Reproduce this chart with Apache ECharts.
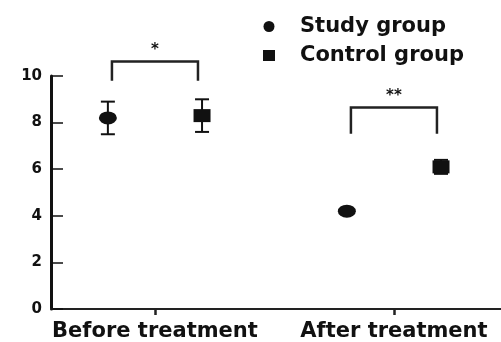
<!DOCTYPE html>
<html>
<head>
<meta charset="utf-8">
<script src="https://cdn.jsdelivr.net/npm/echarts@6/dist/echarts.min.js"></script>
<style>
  html, body { margin: 0; padding: 0; background: #fff; }
  #chart { width: 501px; height: 342px; }
</style>
</head>
<body>
<div id="chart"></div>
<script>
// Group means and standard deviations per time point
const categories = ['Before treatment', 'After treatment'];
const studyMean = [8.2, 4.2];
const studySD = [0.7, 0.1];
const controlMean = [8.3, 6.1];
const controlSD = [0.7, 0.3];

// Significance brackets: level of the bar and of the bracket feet, plus marker text
const sigLabels = ['*', '**'];
const bracketTop = [10.62, 8.65];
const bracketFoot = [9.8, 7.52];

const FONT = 'DejaVu Sans';
const INK = '#111';
const GROUP_OFFSET = 0.197;   // horizontal shift of each group from its category centre
const BRACKET_HALF = 0.18;

function errorBars(name, mean, sd, side) {
  return {
    type: 'custom',
    name: name + ' SD',
    silent: true,
    z: 3,
    data: mean.map((m, i) => [i + 1 + side * GROUP_OFFSET, m - sd[i], m + sd[i]]),
    encode: { x: 0, y: [1, 2] },
    renderItem(params, api) {
      const x = api.value(0);
      const lo = api.coord([x, api.value(1)]);
      const hi = api.coord([x, api.value(2)]);
      const cap = 7;
      const st = { stroke: INK, lineWidth: 2 };
      return {
        type: 'group',
        children: [
          { type: 'line', shape: { x1: lo[0], y1: lo[1], x2: hi[0], y2: hi[1] }, style: st },
          { type: 'line', shape: { x1: lo[0] - cap, y1: lo[1], x2: lo[0] + cap, y2: lo[1] }, style: st },
          { type: 'line', shape: { x1: hi[0] - cap, y1: hi[1], x2: hi[0] + cap, y2: hi[1] }, style: st }
        ]
      };
    }
  };
}

const option = {
  animation: false,
  backgroundColor: '#fff',
  grid: { left: 51, right: 0, top: 76, bottom: 31 },
  legend: {
    orient: 'vertical',
    left: 258,
    top: 11,
    itemWidth: 12,
    itemHeight: 11,
    itemGap: 8,
    data: [
      { name: 'Study group', icon: 'circle' },
      { name: 'Control group', icon: 'rect' }
    ],
    formatter: n => '{gap|}' + n,
    textStyle: {
      fontFamily: FONT, fontWeight: 'bold', fontSize: 21, color: INK,
      rich: { gap: { width: 20 } }
    }
  },
  xAxis: {
    type: 'value',
    min: 0.565,
    max: 2.448,
    splitLine: { show: false },
    axisLine: { show: true, onZero: false, lineStyle: { color: '#222', width: 2 } },
    axisTick: { show: true, customValues: [1, 2], length: 6, lineStyle: { color: '#222', width: 2.5 } },
    axisLabel: {
      customValues: [1, 2],
      formatter: v => categories[Math.round(v) - 1],
      fontFamily: FONT, fontWeight: 'bold', fontSize: 21, color: INK, margin: 12
    }
  },
  yAxis: {
    type: 'value',
    min: 0,
    max: 10,
    interval: 2,
    splitLine: { show: false },
    axisLine: { show: true, onZero: false, lineStyle: { color: INK, width: 3 } },
    axisTick: { show: true, inside: true, length: 12, lineStyle: { color: INK, width: 1.5 } },
    axisLabel: { fontFamily: FONT, fontWeight: 'bold', fontSize: 15, color: INK, margin: 9 }
  },
  series: [
    errorBars('Study group', studyMean, studySD, -1),
    errorBars('Control group', controlMean, controlSD, 1),
    {
      type: 'scatter',
      name: 'Study group',
      symbol: 'circle',
      symbolSize: [18, 13],
      z: 4,
      itemStyle: { color: INK, opacity: 1 },
      data: studyMean.map((m, i) => [i + 1 - GROUP_OFFSET, m])
    },
    {
      type: 'scatter',
      name: 'Control group',
      symbol: 'rect',
      symbolSize: [17, 13],
      z: 4,
      itemStyle: { color: INK, opacity: 1 },
      data: controlMean.map((m, i) => [i + 1 + GROUP_OFFSET, m])
    },
    {
      type: 'custom',
      name: 'Significance',
      silent: true,
      z: 5,
      data: categories.map((c, i) => [i + 1, bracketFoot[i], bracketTop[i]]),
      encode: { x: 0, y: [1, 2] },
      renderItem(params, api) {
        const x = api.value(0);
        const l = api.coord([x - BRACKET_HALF, api.value(1)]);
        const r = api.coord([x + BRACKET_HALF, api.value(1)]);
        const top = api.coord([x, api.value(2)])[1];
        return {
          type: 'group',
          children: [
            {
              type: 'polyline',
              shape: { points: [[l[0], l[1]], [l[0], top], [r[0], top], [r[0], r[1]]] },
              style: { stroke: '#222', lineWidth: 2.5, fill: null }
            },
            {
              type: 'text',
              style: {
                text: sigLabels[params.dataIndex],
                x: (l[0] + r[0]) / 2,
                y: top - 4,
                align: 'center',
                verticalAlign: 'bottom',
                font: 'bold 15px "DejaVu Sans"',
                fill: INK
              }
            }
          ]
        };
      }
    }
  ]
};

const chart = echarts.init(document.getElementById('chart'), null, { renderer: 'canvas' });
chart.setOption(option);
</script>
</body>
</html>
